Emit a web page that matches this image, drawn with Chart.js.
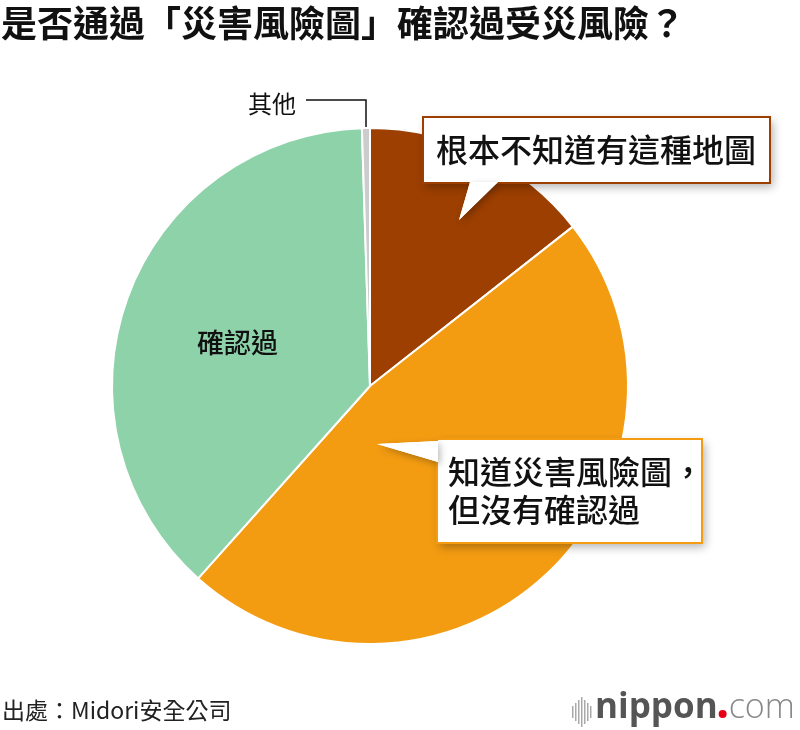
<!DOCTYPE html>
<html><head><meta charset="utf-8">
<script src="https://cdn.jsdelivr.net/npm/chart.js@4.4.0/dist/chart.umd.min.js"></script>
<style>
html,body{margin:0;padding:0;background:#fff;}
#wrap{position:relative;width:800px;height:730px;overflow:hidden;}
canvas{position:absolute;left:0;top:0;}
</style></head>
<body><div id="wrap"><canvas id="c" width="800" height="730"></canvas></div>
<script>
const title = "是否通過「災害風險圖」確認過受災風險？";
const categories = ["根本不知道有這種地圖", "知道災害風險圖，但沒有確認過", "確認過", "其他"];
const values = [14.4, 47.2, 37.9, 0.5];
const colors = ["#9C3F00", "#F39C12", "#8ED2AA", "#CCCCCC"];
const source = "出處：Midori安全公司";

const FONT = '"Noto Sans CJK TC","Noto Sans CJK JP",sans-serif';

const annot = {
  id:'annot',
  afterDraw(chart){
    const ctx = chart.ctx;
    ctx.save();
    // title
    ctx.fillStyle = '#111';
    ctx.font = 'bold 36px ' + FONT;
    ctx.textBaseline = 'middle';
    ctx.textAlign = 'left';
    ctx.fillText(title, 1, 23);

    function callout(box, tail, color, lines, pos){
      ctx.save();
      ctx.shadowColor = 'rgba(0,0,0,0.3)';
      ctx.shadowBlur = 9;
      ctx.shadowOffsetX = 3;
      ctx.shadowOffsetY = 4;
      ctx.fillStyle = '#fff';
      ctx.beginPath();
      ctx.rect(box.x, box.y, box.w, box.h);
      ctx.fill();
      ctx.restore();
      ctx.strokeStyle = color;
      ctx.lineWidth = 2;
      ctx.strokeRect(box.x, box.y, box.w, box.h);
      ctx.save();
      ctx.shadowColor = 'rgba(0,0,0,0.28)';
      ctx.shadowBlur = 7;
      ctx.shadowOffsetX = 2;
      ctx.shadowOffsetY = 3;
      ctx.fillStyle = '#fff';
      ctx.beginPath();
      ctx.moveTo(tail[0][0], tail[0][1]);
      ctx.lineTo(tail[1][0], tail[1][1]);
      ctx.lineTo(tail[2][0], tail[2][1]);
      ctx.closePath();
      ctx.fill();
      ctx.restore();
      ctx.fillStyle = '#fff';
      ctx.beginPath();
      ctx.moveTo(tail[0][0], tail[0][1]);
      ctx.lineTo(tail[1][0], tail[1][1]);
      ctx.lineTo(tail[2][0], tail[2][1]);
      ctx.closePath();
      ctx.fill();
      ctx.fillStyle = '#111';
      ctx.font = '500 32px ' + FONT;
      ctx.textAlign = 'left';
      ctx.textBaseline = 'middle';
      lines.forEach((t,i)=>ctx.fillText(t, pos[i][0], pos[i][1]));
    }
    callout({x:423,y:117,w:347,h:66}, [[470,182],[459,220],[498,182]], colors[0], [categories[0]], [[436,150]]);
    callout({x:437,y:439,w:265,h:104}, [[438,441],[377,444],[438,462]], colors[1], ["知道災害風險圖，","但沒有確認過"], [[448,472],[448,510]]);

    ctx.fillStyle = '#111';
    ctx.font = '500 27px ' + FONT;
    ctx.textAlign = 'left';
    ctx.fillText(categories[2], 197, 343);

    ctx.font = '24px ' + FONT;
    ctx.fillText(categories[3], 248, 104);
    ctx.strokeStyle = '#111';
    ctx.lineWidth = 1.5;
    ctx.beginPath();
    ctx.moveTo(306, 100);
    ctx.lineTo(366, 100);
    ctx.lineTo(366, 127);
    ctx.stroke();

    ctx.font = '23px ' + FONT;
    ctx.fillStyle = '#222';
    ctx.fillText(source, 2, 710);

    const bars = [[572,706,12],[575,703,18],[578,700,24],[581,697,30],[584,700,24],[587,703,18],[590,706,12]];
    ctx.fillStyle = '#aaa';
    bars.forEach(b=>ctx.fillRect(b[0], b[1], 1.5, b[2]));
    ctx.textBaseline = 'alphabetic';
    ctx.font = 'bold 35px "Open Sans",sans-serif';
    ctx.fillStyle = '#555';
    ctx.fillText('nippon', 595, 718);
    let w = ctx.measureText('nippon').width;
    ctx.fillStyle = '#E60012';
    ctx.beginPath();
    ctx.arc(595 + w + 5, 714, 4, 0, Math.PI*2);
    ctx.fill();
    ctx.font = '300 34px "Open Sans",sans-serif';
    ctx.fillStyle = '#888';
    ctx.fillText('com', 595 + w + 11, 718);
    ctx.restore();
  }
};

new Chart(document.getElementById('c'), {
  type:'pie',
  data:{labels:categories, datasets:[{data:values, backgroundColor:colors, borderColor:'#fff', borderWidth:2, hoverOffset:0}]},
  options:{
    responsive:false, animation:false, devicePixelRatio:1,
    radius:258,
    layout:{padding:{left:112, right:172, top:128, bottom:86}},
    plugins:{legend:{display:false}, tooltip:{enabled:false}, title:{display:false}},
    events:[]
  },
  plugins:[annot]
});
</script></body></html>
